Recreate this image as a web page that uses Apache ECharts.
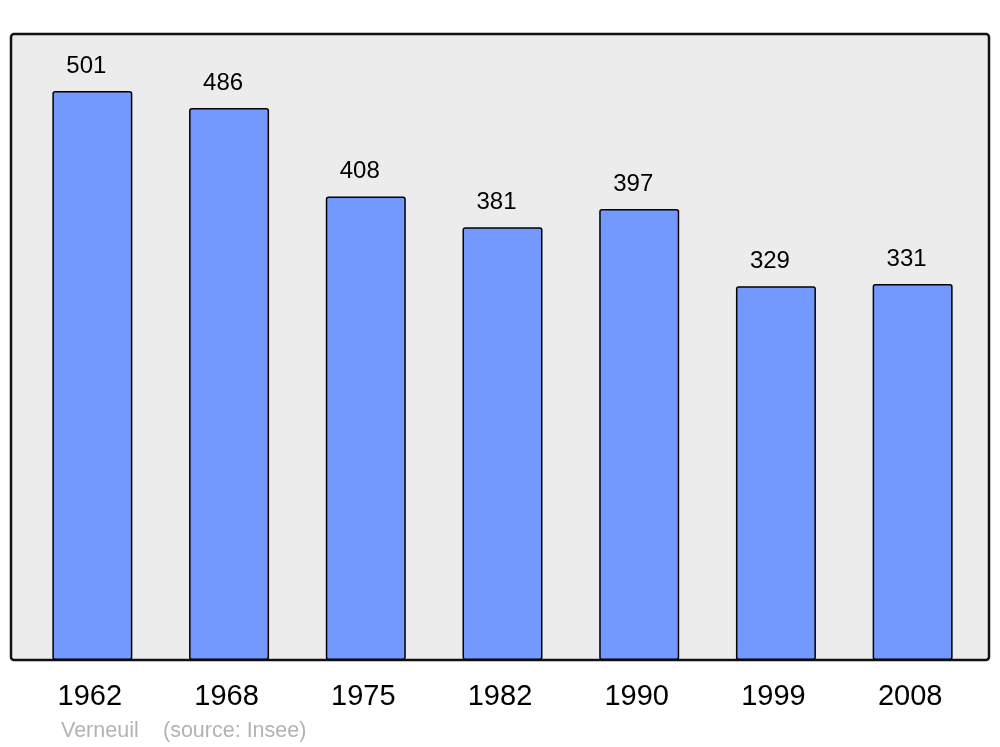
<!DOCTYPE html>
<html>
<head>
<meta charset="utf-8">
<script src="https://cdn.jsdelivr.net/npm/echarts@6/dist/echarts.min.js"></script>
<style>html,body{margin:0;padding:0;background:#fff;}#c{width:1000px;height:747px;}</style>
</head>
<body>
<div id="c"></div>
<script>
const years = ['1962', '1968', '1975', '1982', '1990', '1999', '2008'];
const population = [501, 486, 408, 381, 397, 329, 331];
const footerName = 'Verneuil';
const footerSource = '(source: Insee)';

const chart = echarts.init(document.getElementById('c'), null, {renderer: 'canvas'});
chart.setOption({
  animation: false,
  backgroundColor: '#ffffff',
  textStyle: {fontFamily: 'Liberation Sans, Arial, sans-serif'},
  graphic: [
    {
      type: 'rect', z: -10, silent: true,
      shape: {x: 11, y: 34, width: 978, height: 626, r: 3},
      style: {fill: '#ececec', stroke: '#111111', lineWidth: 2.5}
    },
    {
      type: 'text', left: 61, top: 720, silent: true,
      style: {text: footerName, fill: '#b3b3b3', font: '21.5px "Liberation Sans", Arial, sans-serif'}
    },
    {
      type: 'text', left: 163, top: 720, silent: true,
      style: {text: footerSource, fill: '#b3b3b3', font: '21.5px "Liberation Sans", Arial, sans-serif'}
    }
  ],
  grid: {left: 24, width: 957, top: 33, bottom: 87, containLabel: false},
  xAxis: {
    type: 'category',
    data: years,
    axisLine: {show: false},
    axisTick: {show: false},
    axisLabel: {color: '#000', fontSize: 29, margin: 22, padding: [0, 5, 0, 0], fontFamily: 'Liberation Sans, Arial, sans-serif'}
  },
  yAxis: {
    type: 'value', min: 0, max: 552, show: false,
    splitLine: {show: false}
  },
  series: [{
    type: 'bar',
    data: population,
    barWidth: 80,
    itemStyle: {color: '#7399ff', borderColor: '#000', borderWidth: 1.5, borderRadius: 2},
    label: {
      show: true, position: 'top', distance: 13, offset: [-6, 0],
      color: '#000', fontSize: 24, fontFamily: 'Liberation Sans, Arial, sans-serif'
    }
  }]
});
</script>
</body>
</html>
